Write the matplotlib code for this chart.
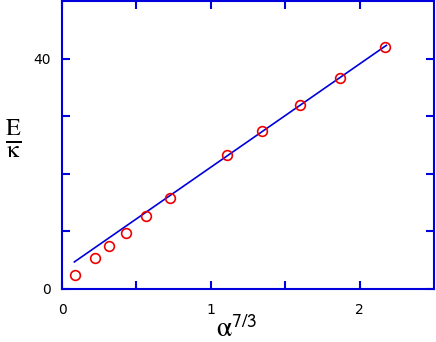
import matplotlib
matplotlib.use('Agg')
import matplotlib.pyplot as plt

plt.rcParams['mathtext.fontset'] = 'stix'

# data
alpha73 = [0.087, 0.221, 0.313, 0.432, 0.566, 0.725, 1.112, 1.342, 1.597, 1.868, 2.172]
energy = [2.4, 5.3, 7.45, 9.8, 12.6, 15.8, 23.2, 27.4, 31.9, 36.7, 42.1]

# fitted straight line (end points)
fit_x = [0.083, 2.18]
fit_y = [4.7, 42.3]

fig = plt.figure(figsize=(4.36, 3.42), dpi=100)
ax = fig.add_axes([62 / 436, 53 / 342, 372 / 436, 288 / 342])

ax.plot(fit_x, fit_y, color='#0000dd', lw=1.2)
ax.plot(alpha73, energy, 'o', mfc='none', mec='#ee0000', ms=7, mew=1.2)

ax.set_xlim(0, 2.5)
ax.set_ylim(0, 50)
ax.set_xticks([0, 0.5, 1, 1.5, 2])
ax.set_xticklabels(['0', '', '1', '', '2'])
ax.set_yticks([0, 10, 20, 30, 40])
ax.set_yticklabels(['0', '', '', '', '40'])

for s in ax.spines.values():
    s.set_color('#0000dd')
    s.set_linewidth(1.5)
ax.tick_params(direction='in', length=6, width=1.5, color='#0000dd',
               top=True, right=True, labelsize=10, pad=8)
ax.tick_params(axis='x', pad=10)

ax.set_xlabel(r'$\mathrm{\alpha}^{\mathsf{7/3}}$', fontsize=20)
ax.xaxis.set_label_coords(0.47, -0.09)
ax.set_ylabel(r'$\frac{\mathrm{E}}{\mathrm{\kappa}}$', fontsize=25, rotation=0,
              va='center', ha='center')
ax.yaxis.set_label_coords(-0.13, 0.52)

plt.savefig('out.png', dpi=100)
plt.close()
